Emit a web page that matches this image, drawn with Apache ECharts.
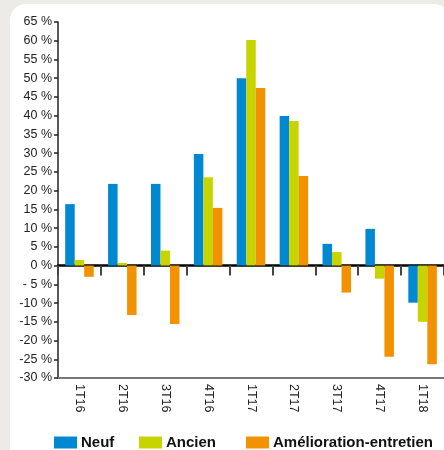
<!DOCTYPE html>
<html>
<head>
<meta charset="utf-8">
<script src="https://cdn.jsdelivr.net/npm/echarts@6/dist/echarts.min.js"></script>
<style>
html,body{margin:0;padding:0;background:#ecebe7;}
#c{width:444px;height:450px;}
</style>
</head>
<body>
<div id="c"></div>
<script>
var categories = ['1T16','2T16','3T16','4T16','1T17','2T17','3T17','4T17','1T18'];
var neuf = [16.4, 21.8, 21.8, 29.8, 50.0, 39.9, 5.8, 9.8, -9.9];
var ancien = [1.5, 0.7, 4.0, 23.6, 60.2, 38.6, 3.6, -3.5, -15.0];
var amelioration = [-3.0, -13.2, -15.6, 15.4, 47.4, 23.9, -7.2, -24.3, -26.3];
var seriesNames = ['Neuf', 'Ancien', 'Amélioration-entretien'];
var colors = ['#0088d1', '#c8d400', '#f39200'];

var FONT = '"Liberation Sans", Arial, sans-serif';
var chart = echarts.init(document.getElementById('c'));

function legendFor(i, left) {
  return {
    data: [seriesNames[i]], left: left, top: 430,
    itemWidth: 23, itemHeight: 12, itemGap: 4,
    icon: 'rect',
    textStyle: {fontFamily: FONT, fontSize: 15, fontWeight: 'bold', color: '#111', padding: [0,0,0,-1]}
  };
}

chart.setOption({
  backgroundColor: '#ecebe7',
  animation: false,
  graphic: [{
    type: 'rect', z: -10, silent: true,
    shape: {x: 10, y: 4, width: 440, height: 460, r: 16},
    style: {fill: '#ffffff'}
  }],
  legend: [legendFor(0, 49), legendFor(1, 134), legendFor(2, 241)],
  grid: {left: 58, right: 0, top: 22, bottom: 72, containLabel: false},
  xAxis: [{
    type: 'category', data: categories,
    axisLine: {onZero: true, lineStyle: {color: '#000', width: 2.5}},
    axisTick: {show: true, length: 10, lineStyle: {color: '#444', width: 2}},
    axisLabel: {show: false},
    splitLine: {show: false}
  }, {
    type: 'category', data: categories, position: 'bottom',
    axisLine: {onZero: false, lineStyle: {color: '#777', width: 2}},
    axisTick: {show: false},
    axisLabel: {rotate: -90, margin: 6, fontFamily: FONT, fontSize: 12.5, color: '#222', interval: 0},
    splitLine: {show: false}
  }],
  yAxis: {
    type: 'value', min: -30, max: 65, interval: 5,
    axisLine: {show: true, lineStyle: {color: '#222', width: 1.5}},
    axisTick: {show: true, length: 4, lineStyle: {color: '#222', width: 1.5}},
    splitLine: {show: false},
    axisLabel: {
      margin: 6, fontFamily: FONT, fontSize: 12.5, color: '#222',
      formatter: function (v) {
        if (v < 0 && v > -10) return '- ' + Math.abs(v) + ' %';
        return v + ' %';
      }
    }
  },
  series: [neuf, ancien, amelioration].map(function (d, i) {
    return {
      name: seriesNames[i], type: 'bar', data: d, xAxisIndex: 0,
      barWidth: 9.5, barGap: '0%',
      itemStyle: {color: colors[i]}
    };
  })
});
</script>
</body>
</html>
